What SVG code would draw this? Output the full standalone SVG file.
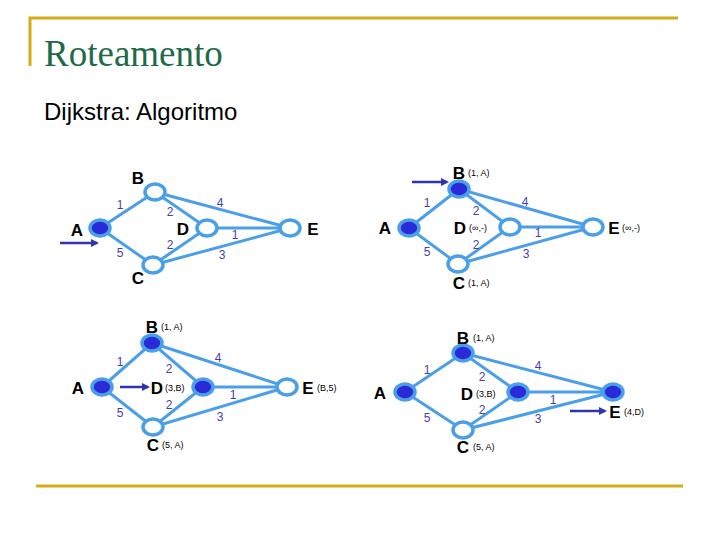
<svg xmlns="http://www.w3.org/2000/svg" width="720" height="540" viewBox="0 0 720 540">
<style>
.e{stroke:#4a9fe8;stroke-width:3;fill:none}
.n{stroke:#4a9fe8;stroke-width:3.5;fill:#fff}
.f{fill:#2a2ad8}
.L{font-family:"Liberation Sans",Arial,sans-serif;font-weight:bold;font-size:17px;fill:#000;dominant-baseline:central;text-anchor:middle}
.s{font-family:"Liberation Sans",Arial,sans-serif;font-size:9px;fill:#000;dominant-baseline:central}
.w{font-family:"Liberation Sans",Arial,sans-serif;font-size:12px;fill:#4a3cb0;dominant-baseline:central;text-anchor:middle}
.a{stroke:#3333b0;stroke-width:2.5;marker-end:url(#ah)}
</style>
<defs><marker id="ah" markerWidth="8" markerHeight="8" refX="6" refY="4" orient="auto" markerUnits="userSpaceOnUse"><path d="M0,0L8,4L0,8z" fill="#3333b0"/></marker></defs>
<rect width="720" height="540" fill="#fff"/>
<path d="M30,66V18H678M36,486H683" stroke="#d4ad1e" stroke-width="3" fill="none"/>
<text x="44" y="66" font-family="Liberation Serif,serif" font-size="37" fill="#1e6b4a">Roteamento</text>
<text x="44" y="120" font-family="Liberation Sans,Arial,sans-serif" font-size="24">Dijkstra: Algoritmo</text>

<g id="connectors">
<path class="e" d="M100,228L155,192L207,228L290,228M155,192L290,228M100,228L153,265L207,228M153,265L290,228"/>
<path class="e" d="M409,228L459,189L510,227L593,227M459,189L593,227M409,228L458,264L510,227M458,264L593,227"/>
<path class="e" d="M102,387L152,343L203,387L287,387M152,343L287,387M102,387L153,427L203,387M153,427L287,387"/>
<path class="e" d="M405,392L463,353L518,392L613,392M463,353L613,392M405,392L463,430L518,392M463,430L613,392"/>
<line class="a" x1="60" y1="243" x2="97" y2="243"/>
<line class="a" x1="412" y1="182" x2="447" y2="182"/>
<line class="a" x1="120" y1="387" x2="148" y2="387"/>
<line class="a" x1="570" y1="411" x2="605" y2="411"/>
</g>

<g id="graph1">
<ellipse class="n f" cx="100" cy="228" rx="10" ry="8"/><ellipse class="n" cx="155" cy="192" rx="10" ry="8"/><ellipse class="n" cx="207" cy="228" rx="10" ry="8"/><ellipse class="n" cx="290" cy="228" rx="10" ry="8"/><ellipse class="n" cx="153" cy="265" rx="10" ry="8"/>
<text class="L" x="77" y="230">A</text><text class="L" x="138" y="178">B</text><text class="L" x="183" y="229">D</text><text class="L" x="313" y="229">E</text><text class="L" x="138" y="278">C</text>
<text class="w" x="120" y="205">1</text><text class="w" x="170" y="212">2</text><text class="w" x="220" y="203">4</text><text class="w" x="170" y="245">2</text><text class="w" x="235" y="235">1</text><text class="w" x="222" y="255">3</text><text class="w" x="120" y="253">5</text>
</g>

<g id="graph2">
<ellipse class="n f" cx="409" cy="228" rx="10" ry="8"/><ellipse class="n f" cx="459" cy="189" rx="10" ry="8"/><ellipse class="n" cx="510" cy="227" rx="10" ry="8"/><ellipse class="n" cx="593" cy="227" rx="10" ry="8"/><ellipse class="n" cx="458" cy="264" rx="10" ry="8"/>
<text class="L" x="385" y="228">A</text><text class="L" x="459" y="173">B</text><text class="s" x="468" y="173">(1, A)</text>
<text class="L" x="460" y="228">D</text><text class="s" x="469" y="228">(∞,-)</text>
<text class="L" x="614" y="228">E</text><text class="s" x="622" y="228">(∞,-)</text>
<text class="L" x="459" y="283">C</text><text class="s" x="468" y="283">(1, A)</text>
<text class="w" x="427" y="203">1</text><text class="w" x="476" y="211">2</text><text class="w" x="525" y="202">4</text><text class="w" x="476" y="245">2</text><text class="w" x="538" y="233">1</text><text class="w" x="526" y="254">3</text><text class="w" x="427" y="252">5</text>
</g>

<g id="graph3">
<ellipse class="n f" cx="102" cy="387" rx="10" ry="8"/><ellipse class="n f" cx="152" cy="343" rx="10" ry="8"/><ellipse class="n f" cx="203" cy="387" rx="10" ry="8"/><ellipse class="n" cx="287" cy="387" rx="10" ry="8"/><ellipse class="n" cx="153" cy="427" rx="10" ry="8"/>
<text class="L" x="78" y="388">A</text><text class="L" x="152" y="327">B</text><text class="s" x="161" y="327">(1, A)</text>
<text class="L" x="157" y="388">D</text><text class="s" x="165" y="388">(3,B)</text>
<text class="L" x="308" y="388">E</text><text class="s" x="317" y="388">(B,5)</text>
<text class="L" x="153" y="445">C</text><text class="s" x="162" y="445">(5, A)</text>
<text class="w" x="120" y="362">1</text><text class="w" x="169" y="369">2</text><text class="w" x="218" y="358">4</text><text class="w" x="169" y="405">2</text><text class="w" x="233" y="395">1</text><text class="w" x="220" y="417">3</text><text class="w" x="120" y="413">5</text>
</g>

<g id="graph4">
<ellipse class="n f" cx="405" cy="392" rx="10" ry="8"/><ellipse class="n f" cx="463" cy="353" rx="10" ry="8"/><ellipse class="n f" cx="518" cy="392" rx="10" ry="8"/><ellipse class="n f" cx="613" cy="392" rx="10" ry="8"/><ellipse class="n" cx="463" cy="430" rx="10" ry="8"/>
<text class="L" x="380" y="393">A</text><text class="L" x="463" y="338">B</text><text class="s" x="473" y="338">(1, A)</text>
<text class="L" x="467" y="394">D</text><text class="s" x="476" y="394">(3,B)</text>
<text class="L" x="615" y="412">E</text><text class="s" x="624" y="412">(4,D)</text>
<text class="L" x="463" y="447">C</text><text class="s" x="473" y="447">(5, A)</text>
<text class="w" x="427" y="370">1</text><text class="w" x="482" y="377">2</text><text class="w" x="538" y="366">4</text><text class="w" x="482" y="410">2</text><text class="w" x="553" y="400">1</text><text class="w" x="538" y="419">3</text><text class="w" x="427" y="418">5</text>
</g>
</svg>
